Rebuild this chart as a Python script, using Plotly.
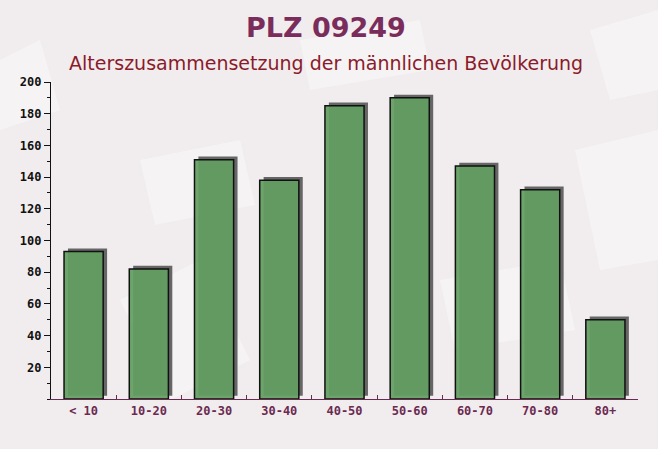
import plotly.graph_objects as go

categories = ["< 10", "10-20", "20-30", "30-40", "40-50", "50-60", "60-70", "70-80", "80+"]
values = [93, 82, 151, 138, 185, 190, 147, 132, 50]
y_tickvals = [20, 40, 60, 80, 100, 120, 140, 160, 180, 200]

title_text = "PLZ 09249"
subtitle_text = "Alterszusammensetzung der männlichen Bevölkerung"

# decorative background "envelopes" (pixel polygons on the page)
bg_polys = [
    [(140, 160), (240, 140), (255, 205), (155, 225)],
    [(575, 150), (658, 130), (658, 260), (600, 270)],
    [(300, 40), (420, 20), (430, 70), (310, 90)],
    [(0, 60), (40, 40), (60, 110), (0, 130)],
    [(440, 280), (560, 260), (575, 330), (455, 350)],
    [(120, 300), (200, 260), (250, 360), (170, 400)],
    [(590, 30), (658, 10), (658, 90), (610, 100)],
]

L, R, T, B, W, H = 51, 20, 82, 50, 658, 449
PW, PH = W - L - R, H - T - B


def to_paper(px, py):
    return (px - L) / PW, (H - B - py) / PH


shapes = []
for poly in bg_polys:
    pts = [to_paper(*p) for p in poly]
    path = "M " + " L ".join(f"{x:.4f},{y:.4f}" for x, y in pts) + " Z"
    shapes.append(dict(type="path", xref="paper", yref="paper", path=path,
                       fillcolor="rgba(255,255,255,0.35)", line=dict(width=0), layer="below"))

bar_w = 0.6
fig = go.Figure()
fig.add_trace(go.Bar(
    x=categories, y=values, base=2, width=bar_w, offset=-bar_w / 2 + 0.06,
    marker=dict(color="rgba(88,86,88,0.9)", line=dict(width=0)),
    hoverinfo="skip", showlegend=False,
))
fig.add_trace(go.Bar(
    x=categories, y=values, width=bar_w, offset=-bar_w / 2,
    marker=dict(color="rgba(98,158,98,0.93)", line=dict(color="#111111", width=1.5)),
    showlegend=False,
))

cx = (326 - L) / PW
fig.update_layout(
    width=W, height=H,
    margin=dict(l=L, r=R, t=T, b=B),
    barmode="overlay",
    paper_bgcolor="#f1edef",
    plot_bgcolor="rgba(0,0,0,0)",
    shapes=shapes,
    annotations=[
        dict(text="<b>" + title_text + "</b>", xref="paper", yref="paper",
             x=cx, y=1 + 54 / PH, xanchor="center", yanchor="middle", showarrow=False,
             font=dict(family="DejaVu Sans", size=27, color="#7a2d5b")),
        dict(text=subtitle_text, xref="paper", yref="paper",
             x=cx, y=1 + 19 / PH, xanchor="center", yanchor="middle", showarrow=False,
             font=dict(family="DejaVu Sans", size=19, color="#8b1a2a")),
    ],
    xaxis=dict(
        type="category", tickson="boundaries", ticks="inside", ticklen=4, tickcolor="#6b2a50",
        showline=True, linecolor="#6b2a50", linewidth=1.2, showgrid=False,
        tickfont=dict(family="DejaVu Sans Mono", size=12, color="#6b2a50", weight="bold"),
        range=[-0.5, 8.5],
    ),
    yaxis=dict(
        range=[0, 200], tickvals=y_tickvals, ticks="outside", ticklen=6, tickcolor="#111",
        showline=True, linecolor="#111", linewidth=1.2, showgrid=False, zeroline=False,
        tickfont=dict(family="DejaVu Sans Mono", size=12, color="#111", weight="bold"),
        minor=dict(dtick=10, ticks="outside", ticklen=3, tickcolor="#111"),
    ),
)

fig.write_html("out.html")
